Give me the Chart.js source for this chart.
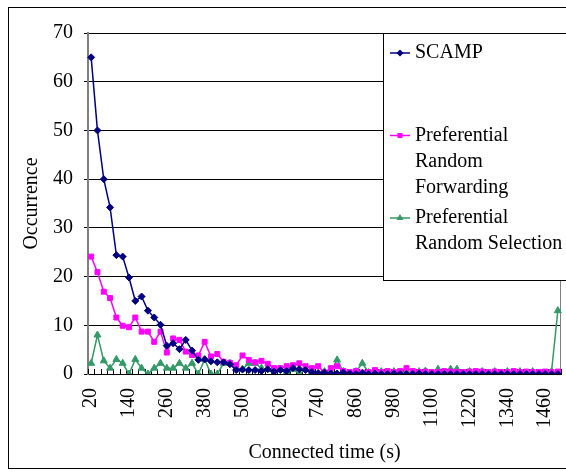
<!DOCTYPE html>
<html>
<head>
<meta charset="utf-8">
<script src="https://cdn.jsdelivr.net/npm/chart.js@4.4.1/dist/chart.umd.min.js"></script>
<style>
  html, body { margin: 0; padding: 0; background: #fff; }
  #chart { display: block; }
</style>
</head>
<body>
<canvas id="chart" width="566" height="472"></canvas>
<script>
// connected time categories (s)
var categories = [20, 40, 60, 80, 100, 120, 140, 160, 180, 200, 220, 240, 260, 280, 300, 320, 340, 360, 380, 400,
    420, 440, 460, 480, 500, 520, 540, 560, 580, 600, 620, 640, 660, 680, 700, 720, 740, 760, 780, 800,
    820, 840, 860, 880, 900, 920, 940, 960, 980, 1000, 1020, 1040, 1060, 1080, 1100, 1120, 1140, 1160, 1180, 1200,
    1220, 1240, 1260, 1280, 1300, 1320, 1340, 1360, 1380, 1400, 1420, 1440, 1460, 1480, 1500];

var scampValues = [65, 50, 40, 34.2, 24.4, 24.1, 19.8, 15.0, 15.9, 13.0,
    11.6, 10.1, 5.8, 6.3, 5.1, 7.0, 4.8, 2.9, 3.0, 2.6,
    2.4, 2.4, 2.0, 0.8, 0.9, 0.8, 0.8, 0.6, 1.0, 0.5,
    0.8, 0.6, 1.2, 1.0, 0.8, 0.4, 0.2, 0.3, 0.1, 0.1,
    0.3, 0.1, 0, 0.2, 0, 0.1, 0, 0, 0.1, 0,
    0, 0, 0.1, 0, 0, 0, 0, 0, 0, 0,
    0, 0, 0, 0, 0, 0, 0, 0, 0, 0,
    0, 0, 0, 0, 0];

var forwardingValues = [24.1, 20.9, 16.9, 15.6, 11.6, 9.9, 9.6, 11.6, 8.7, 8.7,
    6.6, 8.7, 4.4, 7.3, 7.0, 4.6, 3.9, 3.8, 6.6, 3.6,
    4.1, 2.5, 2.3, 1.8, 3.8, 2.9, 2.4, 2.7, 2.1, 1.2,
    1.2, 1.6, 1.8, 2.2, 1.6, 1.2, 1.6, 0.3, 1.2, 1.6,
    0.6, 0.4, 0.6, 0.3, 0.4, 0.8, 0.4, 0.6, 0.4, 0.6,
    1.2, 0.6, 0.4, 0.5, 0.4, 0.4, 0.6, 0.5, 0.4, 0.4,
    0.5, 0.6, 0.5, 0.4, 0.5, 0.4, 0.4, 0.6, 0.4, 0.5,
    0.4, 0.4, 0.5, 0.4, 0.5];

var selectionValues = [2.2, 8.0, 2.7, 1.2, 3.0, 2.2, 0, 3.0, 1.2, 0,
    1.2, 2.2, 1.2, 1.2, 2.2, 1.2, 2.2, 0, 3.0, 0,
    0, 2.2, 2.2, 1.2, 1.0, 2.2, 2.2, 1.2, 1.0, 0,
    1.0, 0.5, 1.0, 0, 1.0, 0.5, 0, 0.5, 0.5, 2.9,
    0.5, 0, 0.5, 2.2, 0.3, 0, 0.5, 0, 0.5, 0,
    0.6, 0, 0.5, 0.6, 0, 1.0, 0, 1.0, 1.0, 0,
    0.5, 0, 0.5, 0, 0.5, 0, 0.5, 0, 0.5, 0,
    0.5, 0, 0, 0.5, 13.0];

var yTicks = [0, 10, 20, 30, 40, 50, 60, 70];
var seriesNames = [["SCAMP"], ["Preferential", "Random", "Forwarding"], ["Preferential", "Random Selection"]];

var FONT = "'Liberation Serif', 'DejaVu Serif', serif";

// white page + outer frame + plot right border + inside x tick marks
var framePlugin = {
    id: 'frame',
    beforeDraw: function (chart) {
        var ctx = chart.ctx;
        ctx.save();
        ctx.fillStyle = '#fff';
        ctx.fillRect(0, 0, chart.width, chart.height);
        ctx.strokeStyle = '#000';
        ctx.lineWidth = 1;
        ctx.strokeRect(8.5, 7.5, chart.width + 10, 461);
        ctx.restore();
    },
    beforeDatasetsDraw: function (chart) {
        var ctx = chart.ctx, xs = chart.scales.x, area = chart.chartArea;
        var step = xs.getPixelForValue(1) - xs.getPixelForValue(0);
        ctx.save();
        ctx.strokeStyle = '#000';
        ctx.lineWidth = 1;
        ctx.beginPath();
        for (var k = 0; k <= categories.length; k++) {
            var x = Math.round(xs.getPixelForValue(k) - step / 2) + 0.5;
            ctx.moveTo(x, area.bottom);
            ctx.lineTo(x, area.bottom - 5);
        }
        ctx.stroke();
        ctx.strokeStyle = '#808080';
        ctx.beginPath();
        ctx.moveTo(area.right - 0.5, area.top);
        ctx.lineTo(area.right - 0.5, area.bottom);
        ctx.stroke();
        ctx.restore();
    }
};

// excel style legend box sitting on the plot
var legendPlugin = {
    id: 'boxLegend',
    afterDraw: function (chart) {
        var ctx = chart.ctx;
        var bx = 383.5, by = 33.5, bw = 190, bh = 247;
        ctx.save();
        ctx.fillStyle = '#fff';
        ctx.fillRect(bx, by, bw, bh);
        ctx.strokeStyle = '#000';
        ctx.lineWidth = 1;
        ctx.strokeRect(bx, by, bw, bh);
        ctx.font = '20px ' + FONT;
        ctx.textBaseline = 'middle';
        ctx.textAlign = 'left';
        chart.data.datasets.forEach(function (ds, i) {
            var y = 53 + 82.5 * i;
            ctx.strokeStyle = ds.borderColor;
            ctx.lineWidth = 1.5;
            ctx.beginPath();
            ctx.moveTo(390, y);
            ctx.lineTo(410, y);
            ctx.stroke();
            Chart.helpers.drawPoint(ctx, {
                pointStyle: ds.pointStyle, radius: 2.5, rotation: 0, borderWidth: 1
            }, 400, y);
            ctx.fillStyle = ds.borderColor;
            ctx.fill();
            ctx.fillStyle = '#000';
            seriesNames[i].forEach(function (line, j) {
                ctx.fillText(line, 415, y + 26 * j);
            });
        });
        ctx.restore();
    }
};

function series(label, data, color, style, radius) {
    return {
        label: label,
        data: data,
        borderColor: color,
        backgroundColor: color,
        borderWidth: 1.5,
        pointStyle: style,
        pointRadius: radius,
        pointBorderWidth: 1,
        pointBackgroundColor: color,
        pointBorderColor: color,
        tension: 0
    };
}

var chart = new Chart(document.getElementById('chart'), {
    type: 'line',
    data: {
        labels: categories,
        datasets: [
            series(seriesNames[0].join(' '), scampValues, '#000080', 'rectRot', 3.5),
            series(seriesNames[1].join(' '), forwardingValues, '#ff00ff', 'rect', 3.5),
            series(seriesNames[2].join(' '), selectionValues, '#339966', 'triangle', 4)
        ]
    },
    options: {
        responsive: false,
        animation: false,
        layout: { padding: { top: 33, right: 1, left: 0, bottom: 0 } },
        plugins: {
            legend: { display: false },
            tooltip: { enabled: false }
        },
        scales: {
            x: {
                type: 'category',
                offset: true,
                grid: { display: false, drawTicks: false },
                border: { display: true, color: '#000', width: 1 },
                ticks: {
                    autoSkip: false,
                    maxRotation: 90,
                    minRotation: 90,
                    padding: 14,
                    color: '#000',
                    font: { family: FONT, size: 20 },
                    callback: function (val, idx) {
                        return idx % 6 === 0 ? String(categories[idx]) : '';
                    }
                },
                title: {
                    display: true,
                    text: 'Connected time (s)',
                    color: '#000',
                    font: { family: FONT, size: 20 },
                    padding: { top: 0, bottom: 7 }
                },
                afterFit: function (scale) {
                    scale.height = 98;
                    scale.paddingLeft = 0;
                    scale.paddingRight = 0;
                }
            },
            y: {
                min: yTicks[0],
                max: yTicks[yTicks.length - 1],
                grid: { color: '#000', lineWidth: 1, tickLength: 4, drawTicks: true },
                border: { display: true, color: '#808080', width: 2 },
                ticks: {
                    stepSize: yTicks[1] - yTicks[0],
                    padding: 11,
                    color: '#000',
                    font: { family: FONT, size: 20 }
                },
                title: {
                    display: true,
                    text: 'Occurrence',
                    color: '#000',
                    font: { family: FONT, size: 20 },
                    padding: { top: 20, bottom: 0 }
                },
                afterFit: function (scale) { scale.width = 88; }
            }
        }
    },
    plugins: [framePlugin, legendPlugin]
});
</script>
</body>
</html>
